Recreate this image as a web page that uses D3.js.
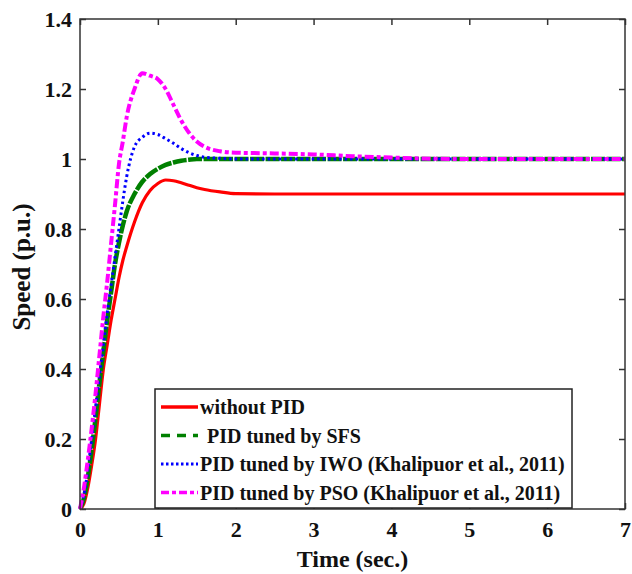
<!DOCTYPE html>
<html>
<head>
<meta charset="utf-8">
<script src="https://cdn.jsdelivr.net/npm/d3@7"></script>
<style>
  body { margin: 0; background: #fff; }
</style>
</head>
<body>
<div id="chart-area"></div>
<script>
// time samples (sec.)
var time = [0, 0.05, 0.1, 0.15, 0.2, 0.25, 0.3, 0.35, 0.4, 0.45, 0.5, 0.55, 0.6, 0.7, 0.8, 0.9,
    1.0, 1.1, 1.2, 1.3, 1.4, 1.5, 1.6, 1.8, 2.0, 2.5, 3.0, 3.5, 4.0, 4.5, 5.0, 6.0, 7.0];

var withoutPID = [0, 0.015, 0.06, 0.125, 0.2, 0.3, 0.4, 0.47, 0.54, 0.6, 0.66, 0.71, 0.75, 0.82, 0.875, 0.91,
    0.93, 0.94, 0.938, 0.932, 0.925, 0.918, 0.913, 0.906, 0.901, 0.9, 0.9, 0.9, 0.9, 0.9, 0.9, 0.9, 0.9];

var sfs = [0, 0.03, 0.09, 0.17, 0.26, 0.36, 0.45, 0.54, 0.62, 0.7, 0.76, 0.81, 0.85, 0.9, 0.935, 0.957,
    0.972, 0.983, 0.99, 0.995, 0.998, 1.0, 1.0, 1.0, 1.0, 1.0, 1.0, 1.0, 1.0, 1.0, 1.0, 1.0, 1.0];

var iwo = [0, 0.04, 0.11, 0.2, 0.29, 0.38, 0.47, 0.56, 0.64, 0.72, 0.8, 0.88, 0.95, 1.035, 1.062, 1.074,
    1.07, 1.058, 1.045, 1.03, 1.018, 1.01, 1.005, 1.002, 1.0, 1.0, 1.0, 1.0, 1.0, 1.0, 1.0, 1.0, 1.0];

var pso = [0, 0.06, 0.14, 0.23, 0.33, 0.44, 0.55, 0.65, 0.76, 0.87, 0.985, 1.05, 1.12, 1.2, 1.245, 1.238,
    1.228, 1.2, 1.155, 1.11, 1.075, 1.05, 1.035, 1.022, 1.018, 1.016, 1.013, 1.008, 1.004, 1.001, 1.0, 1.0, 1.0];

var seriesNames = ["without PID", "PID tuned by SFS",
    "PID tuned by IWO (Khalipuor et al., 2011)", "PID tuned by PSO (Khalipuor et al., 2011)"];

var xTicks = [0, 1, 2, 3, 4, 5, 6, 7];
var yTicks = [0, 0.2, 0.4, 0.6, 0.8, 1, 1.2, 1.4];

var margin = { left: 80, right: 7, top: 19, bottom: 65 };
var width = 632 - margin.left - margin.right,
    height = 574 - margin.top - margin.bottom;

var svg = d3.select("#chart-area")
    .append("svg")
        .attr("width", 632)
        .attr("height", 574);

var g = svg.append("g")
    .attr("transform", "translate(" + margin.left + ", " + margin.top + ")");

var x = d3.scaleLinear().domain([0, 7]).range([0, width]);
var y = d3.scaleLinear().domain([0, 1.4]).range([height, 0]);

// inward ticks on all four sides
g.append("g")
    .attr("class", "x axis")
    .attr("transform", "translate(0, " + height + ")")
    .call(d3.axisBottom(x).tickValues(xTicks).tickSize(-6).tickPadding(12).tickFormat(d3.format("d")));
g.append("g")
    .attr("class", "x axis top")
    .call(d3.axisTop(x).tickValues(xTicks).tickSize(-6).tickFormat(""));
g.append("g")
    .attr("class", "y axis")
    .call(d3.axisLeft(y).tickValues(yTicks).tickSize(-6).tickPadding(8)
        .tickFormat(function(d){ return d === 0 || d === 1 ? d : d3.format(".1f")(d); }));
g.append("g")
    .attr("class", "y axis right")
    .attr("transform", "translate(" + width + ", 0)")
    .call(d3.axisRight(y).tickValues(yTicks).tickSize(-6).tickFormat(""));

g.selectAll(".axis .domain").remove();
g.selectAll(".axis line").attr("stroke", "#333").attr("stroke-width", 1.5);
g.selectAll(".axis text")
    .style("font-family", "Liberation Serif")
    .style("font-weight", "bold")
    .style("font-size", "22px")
    .attr("fill", "#111");

var styles = [
    { color: "#ff0000", width: 3.2, dash: null, legendDash: null },
    { color: "#008000", width: 4.5, dash: "14,1.5", legendDash: "9,7" },
    { color: "#0000ff", width: 3, dash: "2.5,3", legendDash: "2.5,2.5" },
    { color: "#ff00ff", width: 4, dash: "9,3,4,3", legendDash: "8,3,4,3" }
];
var seriesValues = [withoutPID, sfs, iwo, pso];

var line = d3.line()
    .x(function(d){ return x(d[0]); })
    .y(function(d){ return y(d[1]); })
    .curve(d3.curveMonotoneX);

seriesValues.forEach(function(vals, i){
    var pts = time.map(function(t, j){ return [t, vals[j]]; });
    g.append("path")
        .datum(pts)
        .attr("fill", "none")
        .attr("stroke", styles[i].color)
        .attr("stroke-width", styles[i].width)
        .attr("stroke-dasharray", styles[i].dash)
        .attr("d", line);
});

// frame
g.append("rect")
    .attr("width", width)
    .attr("height", height)
    .attr("fill", "none")
    .attr("stroke", "#333")
    .attr("stroke-width", 1.5);

// legend
var legend = svg.append("g").attr("transform", "translate(155, 389)");
legend.append("rect")
    .attr("width", 417)
    .attr("height", 119)
    .attr("fill", "#fff")
    .attr("stroke", "#222")
    .attr("stroke-width", 1.5);

seriesNames.forEach(function(name, i){
    var yy = 18 + i * 28.5;
    legend.append("line")
        .attr("x1", 6).attr("x2", 43)
        .attr("y1", yy).attr("y2", yy)
        .attr("stroke", styles[i].color)
        .attr("stroke-width", i === 2 ? 3 : 3.5)
        .attr("stroke-dasharray", styles[i].legendDash);
    legend.append("text")
        .attr("x", i === 1 ? 52 : 45)
        .attr("y", yy + 7)
        .style("font-family", "Liberation Serif")
        .style("font-weight", "bold")
        .style("font-size", "20px")
        .attr("fill", "#111")
        .text(name);
});

// X Label
svg.append("text")
    .attr("x", margin.left + width / 2)
    .attr("y", 567)
    .style("font-family", "Liberation Serif")
    .style("font-weight", "bold")
    .style("font-size", "24px")
    .attr("text-anchor", "middle")
    .attr("fill", "#111")
    .text("Time (sec.)");

// Y Label
svg.append("text")
    .attr("x", -267)
    .attr("y", 30)
    .style("font-family", "Liberation Serif")
    .style("font-weight", "bold")
    .style("font-size", "25px")
    .attr("text-anchor", "middle")
    .attr("transform", "rotate(-90)")
    .attr("fill", "#111")
    .text("Speed (p.u.)");
</script>
</body>
</html>
